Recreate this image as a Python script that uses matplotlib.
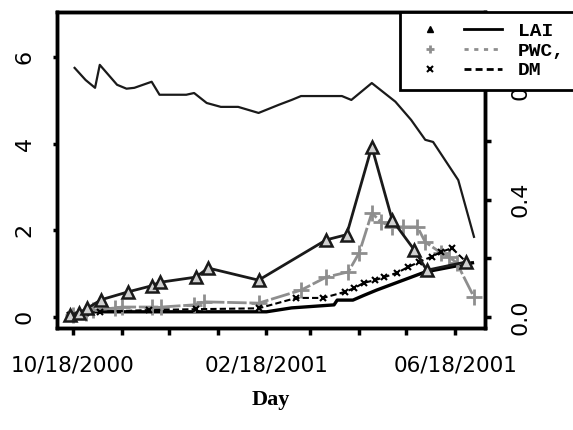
import matplotlib
matplotlib.use('Agg')
import matplotlib.pyplot as plt
from matplotlib.lines import Line2D
from matplotlib.legend_handler import HandlerTuple
import pandas as pd

# LAI (triangles, solid black)
lai_dates = ['2000-10-16', '2000-10-22', '2000-10-27', '2000-11-05', '2000-11-22',
             '2000-12-07', '2000-12-12', '2001-01-04', '2001-01-12', '2001-02-13',
             '2001-03-28', '2001-04-10', '2001-04-26', '2001-05-09', '2001-05-23',
             '2001-05-31', '2001-06-25']
lai_vals = [0.05, 0.10, 0.20, 0.40, 0.58, 0.72, 0.80, 0.92, 1.13, 0.85,
            1.78, 1.90, 3.93, 2.24, 1.55, 1.08, 1.27]

# PWC (grey +)
pwc_dates = ['2000-10-18', '2000-10-26', '2000-10-31', '2000-11-14', '2000-11-18',
             '2000-12-07', '2000-12-13', '2001-01-03', '2001-01-09', '2001-02-13',
             '2001-03-12', '2001-03-28', '2001-04-11', '2001-04-18', '2001-04-26',
             '2001-05-02', '2001-05-09', '2001-05-16', '2001-05-25', '2001-05-30',
             '2001-06-09', '2001-06-14', '2001-06-19', '2001-06-30']
pwc_vals = [0.05, 0.09, 0.16, 0.21, 0.23, 0.23, 0.23, 0.28, 0.35, 0.32,
            0.62, 0.92, 1.04, 1.48, 2.40, 2.19, 2.08, 2.08, 2.08, 1.73,
            1.48, 1.39, 1.25, 0.46]

# DM (x, dashed black)
dm_dates = ['2000-10-16', '2000-10-26', '2000-11-04', '2000-12-05', '2001-01-04',
            '2001-02-13', '2001-03-09', '2001-03-26', '2001-04-09', '2001-04-15',
            '2001-04-21', '2001-04-28', '2001-05-04', '2001-05-12', '2001-05-19',
            '2001-05-26', '2001-06-03', '2001-06-09', '2001-06-16', '2001-06-27']
dm_vals = [0.05, 0.09, 0.12, 0.16, 0.18, 0.20, 0.44, 0.44, 0.58, 0.67,
           0.79, 0.85, 0.92, 1.02, 1.15, 1.27, 1.39, 1.50, 1.59, 1.20]

# unlabelled solid curves (upper and lower)
top_dates = ['2000-10-19', '2000-10-26', '2000-11-01', '2000-11-04', '2000-11-15',
             '2000-11-21', '2000-11-26', '2000-12-07', '2000-12-12', '2000-12-29',
             '2001-01-03', '2001-01-11', '2001-01-20', '2001-01-31', '2001-02-13',
             '2001-02-26', '2001-03-06', '2001-03-12', '2001-04-07', '2001-04-13',
             '2001-04-26', '2001-05-11', '2001-05-21', '2001-05-30', '2001-06-04',
             '2001-06-20', '2001-06-30']
top_vals = [5.75, 5.47, 5.29, 5.82, 5.36, 5.27, 5.29, 5.43, 5.13, 5.13,
            5.17, 4.94, 4.85, 4.85, 4.71, 4.90, 5.01, 5.10, 5.10, 5.01,
            5.40, 4.97, 4.55, 4.09, 4.04, 3.16, 1.85]

low_dates = ['2000-10-15', '2000-10-29', '2001-02-18', '2001-03-06', '2001-04-02',
             '2001-04-04', '2001-04-14', '2001-04-21', '2001-04-29', '2001-05-30',
             '2001-06-29']
low_vals = [0.07, 0.12, 0.12, 0.21, 0.28, 0.39, 0.39, 0.50, 0.62, 1.04, 1.25]

x_ticks = ['2000-10-18', '2000-11-18', '2000-12-18', '2001-01-18', '2001-02-18',
           '2001-03-18', '2001-04-18', '2001-05-18', '2001-06-18']
x_labels = ['10/18/2000', '', '', '', '02/18/2001', '', '', '', '06/18/2001']

fig = plt.figure(figsize=(5.73, 4.30), dpi=100)
ax = fig.add_axes([57 / 573, 1 - 328 / 430, 428 / 573, 316 / 430])

grey = '#8e8e8e'
ax.plot(pd.to_datetime(top_dates), top_vals, color='#1a1a1a', lw=1.6)
ax.plot(pd.to_datetime(low_dates), low_vals, color='black', lw=2.4)
ax.plot(pd.to_datetime(pwc_dates), pwc_vals, color=grey, lw=2, ls=(0, (7, 1)),
        marker='+', ms=11, mew=2)
ax.plot(pd.to_datetime(dm_dates), dm_vals, color='black', lw=1.5, ls=(0, (3, 1.5)),
        marker='x', ms=5, mew=1.5)
ax.plot(pd.to_datetime(lai_dates), lai_vals, color='#1a1a1a', lw=2,
        marker='^', ms=8, mfc='#d0d0d0', mec='#1a1a1a', mew=1.8)

start = pd.Timestamp('2000-10-18')
ax.set_xlim(start - pd.Timedelta(days=10.2), start + pd.Timedelta(days=262))
ax.set_ylim(-0.254, 7.04)

ax.set_xticks(pd.to_datetime(x_ticks))
ax.set_xticklabels(x_labels, fontsize=15.5)
ax.tick_params(axis='x', length=5, width=2.5, direction='out', pad=15)

ax.set_yticks([0, 2, 4, 6])
ax.set_yticklabels(['0', '2', '4', '6'], rotation=90, va='center', fontsize=16)
ax.tick_params(axis='y', length=3, width=2.5, pad=13)

for s in ax.spines.values():
    s.set_linewidth(2.5)

ax2 = ax.twinx()
ax2.set_ylim(-0.0375, 1.039)
ax2.set_yticks([0.0, 0.2, 0.4, 0.6, 0.8])
ax2.set_yticklabels(['0.0', '', '0.4', '', '0.8'], rotation=90, va='center', fontsize=16)
ax2.tick_params(axis='y', length=4, width=2.5, pad=14)
for s in ax2.spines.values():
    s.set_linewidth(2.5)

ax.set_xlabel('Day', fontsize=16, fontweight='bold', family='Liberation Serif', labelpad=10)

handles = [
    (Line2D([], [], ls='none', marker='^', ms=5, color='black'),
     Line2D([], [], color='black', lw=2)),
    (Line2D([], [], ls='none', marker='+', ms=6, mew=2, color=grey),
     Line2D([], [], color=grey, lw=2, ls=(0, (1.5, 2)))),
    (Line2D([], [], ls='none', marker='x', ms=4, mew=1.5, color='black'),
     Line2D([], [], color='black', lw=2, ls=(0, (2.5, 1.5)))),
]
leg = fig.legend(handles, ['LAI', 'PWC,', 'DM'],
                 handler_map={tuple: HandlerTuple(ndivide=None, pad=0.8)},
                 loc='upper left', bbox_to_anchor=(400 / 573, 1 - 12 / 430),
                 prop={'family': 'Liberation Mono', 'size': 14, 'weight': 'bold'},
                 handlelength=4.7, handletextpad=0.8, borderpad=0.55,
                 borderaxespad=0, labelspacing=0.1, fancybox=False, framealpha=1,
                 edgecolor='black')
leg.get_frame().set_linewidth(2)

fig.savefig('out.png', dpi=100)
